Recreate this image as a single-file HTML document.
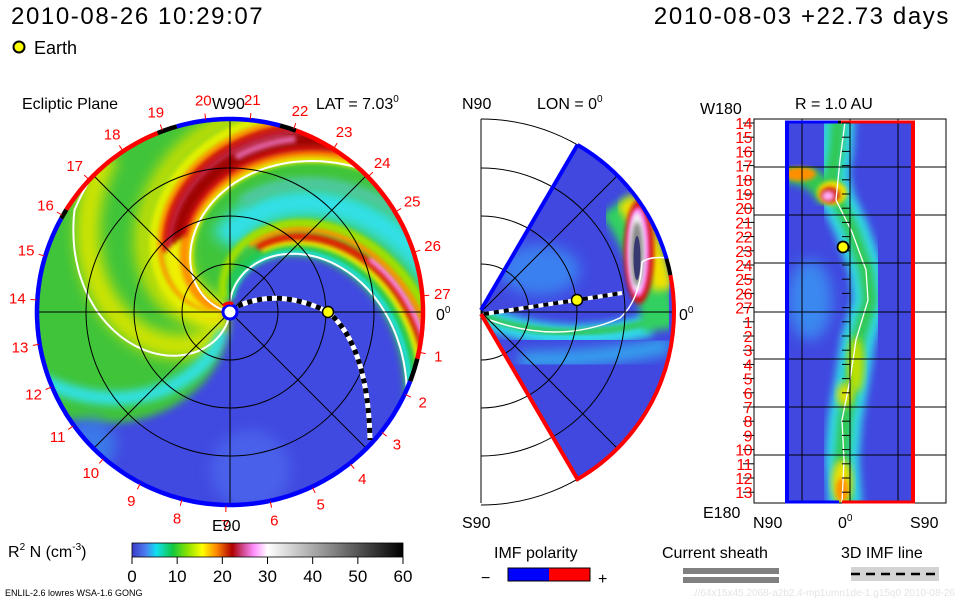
<!DOCTYPE html>
<html><head><meta charset="utf-8">
<style>
html,body{margin:0;padding:0;background:#fff;}
svg{display:block;}
text{font-family:"Liberation Sans",sans-serif;}
</style></head>
<body>
<svg id="root" width="960" height="600" viewBox="0 0 960 600" xmlns="http://www.w3.org/2000/svg">
<defs>
  <filter id="b2" x="-20%" y="-20%" width="140%" height="140%"><feGaussianBlur stdDeviation="2"/></filter>
  <filter id="b4" x="-20%" y="-20%" width="140%" height="140%"><feGaussianBlur stdDeviation="4"/></filter>
  <filter id="b7" x="-30%" y="-30%" width="160%" height="160%"><feGaussianBlur stdDeviation="7"/></filter>
  <clipPath id="diskClip"><circle cx="230" cy="312" r="193"/></clipPath>
  <clipPath id="wedgeClip"><path d="M481,312 L577.5,144.9 A193,193 0 0 1 577.5,479.1 Z"/></clipPath>
  <clipPath id="rectClip"><rect x="786" y="121" width="128" height="382"/></clipPath>
  <linearGradient id="cbar" x1="0" x2="1" y1="0" y2="0">
    <stop offset="0" stop-color="#3c3cc8"/>
    <stop offset="0.05" stop-color="#4a7cf0"/>
    <stop offset="0.09" stop-color="#10e0f0"/>
    <stop offset="0.15" stop-color="#10c840"/>
    <stop offset="0.2" stop-color="#80e000"/>
    <stop offset="0.26" stop-color="#ffff00"/>
    <stop offset="0.31" stop-color="#ff8c00"/>
    <stop offset="0.37" stop-color="#b00000"/>
    <stop offset="0.41" stop-color="#d04890"/>
    <stop offset="0.45" stop-color="#ff90ff"/>
    <stop offset="0.5" stop-color="#ffffff"/>
    <stop offset="1" stop-color="#000000"/>
  </linearGradient>
</defs>

<text x="11" y="24" font-size="24" letter-spacing="1.6">2010-08-26 10:29:07</text>
<text x="950" y="24" font-size="24" letter-spacing="1.6" text-anchor="end">2010-08-03 +22.73 days</text>
<g>
  <circle cx="19" cy="47" r="5.5" fill="#ffff00" stroke="#000" stroke-width="2"/>
  <text x="34" y="54" font-size="18">Earth</text>
</g>

<g id="ecl">
  <text x="22" y="109" font-size="16">Ecliptic Plane</text>
  <text x="316" y="109" font-size="16">LAT = 7.03<tspan font-size="10" dy="-7">0</tspan></text>
  <g id="eclField" clip-path="url(#diskClip)"></g>
  <g id="eclGrid"></g>
  <g id="eclOver"></g>
  <text x="212" y="109" font-size="16">W90</text>
  <text x="212" y="531" font-size="16">E90</text>
  <text x="436" y="320" font-size="16">0<tspan font-size="10" dy="-7">0</tspan></text>
</g>

<g id="mer">
  <text x="462" y="109" font-size="16">N90</text>
  <text x="537" y="109" font-size="16">LON = 0<tspan font-size="10" dy="-7">0</tspan></text>
  <text x="462" y="528" font-size="16">S90</text>
  <text x="679" y="320" font-size="16">0<tspan font-size="10" dy="-7">0</tspan></text>
  <g id="merField" clip-path="url(#wedgeClip)"></g>
  <g id="merGrid"></g>
</g>

<g id="au">
  <text x="795" y="109" font-size="16">R = 1.0 AU</text>
  <text x="700" y="114" font-size="16">W180</text>
  <text x="703" y="518" font-size="16">E180</text>
  <text x="753" y="528" font-size="16">N90</text>
  <text x="838" y="528" font-size="16">0<tspan font-size="10" dy="-7">0</tspan></text>
  <text x="910" y="528" font-size="16">S90</text>
  <g id="auField" clip-path="url(#rectClip)"></g>
  <g id="auGrid"></g>
</g>

<g>
  <text x="8" y="557" font-size="16">R<tspan font-size="10" dy="-7">2</tspan><tspan dy="7"> N (cm</tspan><tspan font-size="10" dy="-7">-3</tspan><tspan dy="7">)</tspan></text>
  <rect x="132" y="543" width="271" height="14" fill="url(#cbar)" stroke="#000" stroke-width="0.8"/>
  <g id="cbTicks"></g>
</g>
<g>
  <text x="494" y="558" font-size="16">IMF polarity</text>
  <text x="481" y="583" font-size="16">−</text>
  <rect x="508" y="568" width="41" height="13" fill="#0000ff"/>
  <rect x="549" y="568" width="41" height="13" fill="#ff0000"/>
  <rect x="508" y="568" width="82" height="13" fill="none" stroke="#000" stroke-width="1"/>
  <text x="598" y="584" font-size="16">+</text>
</g>
<g>
  <text x="662" y="558" font-size="16">Current sheath</text>
  <rect x="683" y="568" width="96" height="6" fill="#808080"/>
  <rect x="683" y="577" width="96" height="6" fill="#808080"/>
</g>
<g>
  <text x="841" y="558" font-size="16">3D IMF line</text>
  <rect x="851" y="567" width="88" height="14" fill="#d3d3d3"/>
  <line x1="851" y1="574" x2="939" y2="574" stroke="#000" stroke-width="2.5" stroke-dasharray="9,6"/>
</g>
<text x="5" y="596" font-size="9">ENLIL-2.6 lowres WSA-1.6 GONG</text>
<text x="955" y="596" font-size="10" fill="#e4e4e4" text-anchor="end">.//64x15x45.2068-a2b2.4-mp1umn1de-1.g15q0   2010-08-26</text>
</svg>
<script>
// ---------- data ----------
const dayLabels = ["1","2","3","4","5","6","7","8","9","10","11","12","13","14","15","16","17","18","19","20","21","22","23","24","25","26","27"];
const auDayLabels = ["14","15","16","17","18","19","20","21","22","23","24","25","26","27","1","2","3","4","5","6","7","8","9","10","11","12","13"];
const cbTickValues = [0,10,20,30,40,50,60];
const gridRadii = [48,96,144,193];
const band2Offsets = [-99,-103,-107,-111,-114,-118,-122];
const band2Colors = ["#20e0e0","#20c850","#e8f000","#e02000","#ff80ff","#ff9000","#a0e000"];
const band1Offsets = [-170,-174,-178,-182,-186,-190,-194,-198,-202];
const band1Colors = ["#e8f000","#ff9000","#d01010","#a00000","#a00000","#c02040","#d01010","#ff9000","#e0f000"];
const ringStarts = [-148,-112,-106,-75,-70,14,21,209];
const ringEnds   = [-112,-106,-75,-70,14,21,209,212];
const ringColors = ["#ff0000","#000000","#0000ff","#000000","#ff0000","#000000","#0000ff","#000000"];
const earthPos = [328,312];

const NS="http://www.w3.org/2000/svg";
const CX=230, CY=312, R=193, K=0.62*Math.PI/180;
function mk(parent, tag, attrs, name){
  const el=document.createElementNS(NS,tag);
  for(const k in attrs) el.setAttribute(k,attrs[k]);
  
  
  parent.appendChild(el); return el;
}
function pt(r,a){return [CX+r*Math.cos(a), CY+r*Math.sin(a)];}
function spiral(a0,r0,r1){
  let d='';
  for(let r=r0;r<=r1;r+=2){const p=pt(r,a0*Math.PI/180+K*r);d+=(r===r0?'M':'L')+p[0].toFixed(1)+','+p[1].toFixed(1);}
  return d;
}
function edgeAng(r,off){return (88+off+0.3*r)*Math.PI/180;}
function edgePath(off,r0,r1){let d='';for(let r=r0;r<=r1;r+=3){const p=pt(r,edgeAng(r,off));d+=(r===r0?'M':'L')+p[0].toFixed(1)+','+p[1].toFixed(1);}return d;}

// ---------- ecliptic field ----------
const F=document.getElementById('eclField');
mk(F,'circle',{cx:CX,cy:CY,r:R,fill:'#40c43a'},'ecliptic-base');
mk(F,'path',{d:spiral(108,10,200),fill:'none',stroke:'#d0e400',"stroke-width":24,filter:'url(#b7)'},'yellow-band-a');
mk(F,'path',{d:spiral(150,10,200),fill:'none',stroke:'#c8e000',"stroke-width":18,filter:'url(#b7)'},'yellow-band-b');
mk(F,'path',{d:spiral(175,5,110),fill:'none',stroke:'#f4f000',"stroke-width":30,filter:'url(#b7)'},'yellow-band-core');
mk(F,'path',{d:spiral(-138,70,210),fill:'none',stroke:'#30e0e8',"stroke-width":30,filter:'url(#b7)'},'cyan-gap-band');
mk(F,'path',{d:spiral(-152,110,210),fill:'none',stroke:'#50c8a0',"stroke-width":12,filter:'url(#b4)'},'green-gap-band');
mk(F,'path',{d:edgePath(12,20,210),fill:'none',stroke:'#30e0e0',"stroke-width":14,filter:'url(#b4)'},'blue-edge-cyan');
{let pts=[];
 for(let r=4;r<=214;r+=3){pts.push(pt(r,-95*Math.PI/180+K*r));}
 const aS=-95*Math.PI/180+K*214, aE=edgeAng(214,0);
 for(let i=0;i<=20;i++){pts.push(pt(300,aS+(aE-aS)*i/20));}
 for(let r=214;r>=4;r-=3){pts.push(pt(r,edgeAng(r,0)));}
 mk(F,'polygon',{points:pts.map(p=>p[0].toFixed(1)+','+p[1].toFixed(1)).join(' '),fill:'#4048e0',filter:'url(#b4)'},'blue-sector');}
mk(F,'circle',{cx:90,cy:445,r:26,fill:'#3a78e8',filter:'url(#b7)'},'blue-edge-patch');
mk(F,'circle',{cx:250,cy:470,r:40,fill:'#4a60ea',filter:'url(#b7)'},'blue-lighter-patch');
band2Offsets.forEach((o,i)=>{
  const r0 = i>=2 && i<=5 ? (i===4?150:70) : 15;
  mk(F,'path',{d:spiral(o,r0,205),fill:'none',stroke:band2Colors[i],"stroke-width":(i===4?6:8),filter:'url(#b2)'},'cir-band-2-stripe');
});
band1Offsets.forEach((o,i)=>{
  const c=band1Colors[i];
  const red = c==='#d01010'||c==='#a00000'||c==='#c02040';
  mk(F,'path',{d:spiral(o,red?90:10,205),fill:'none',stroke:c,"stroke-width":9,filter:'url(#b2)'},'cir-band-1-stripe');
});
mk(F,'path',{d:spiral(-184,155,185),fill:'none',stroke:'#e060a0',"stroke-width":7,filter:'url(#b2)'},'cir-band-1-peak');
mk(F,'path',{d:spiral(-96,8,205),fill:'none',stroke:'#fff',"stroke-width":2},'current-sheath-line-1');
mk(F,'path',{d:spiral(-168,8,196),fill:'none',stroke:'#fff',"stroke-width":2},'current-sheath-line-2');
mk(F,'path',{d:spiral(98,8,186)+' Q100,150 140,135 T190,122',fill:'none',stroke:'#fff',"stroke-width":2},'current-sheath-line-3');

// ---------- ecliptic grid ----------
const G=document.getElementById('eclGrid');
gridRadii.slice(0,3).forEach(r=>mk(G,'circle',{cx:CX,cy:CY,r:r,fill:'none',stroke:'#000',"stroke-width":1},'radius-circle'));
[0,45,90,135].forEach(a=>{const t=a*Math.PI/180;
  mk(G,'line',{x1:CX-R*Math.cos(t),y1:CY-R*Math.sin(t),x2:CX+R*Math.cos(t),y2:CY+R*Math.sin(t),stroke:'#000',"stroke-width":1},'grid-spoke');});
ringStarts.forEach((s,i)=>{
  let d='';
  for(let a=s;a<=ringEnds[i]+0.01;a+=1){const p=pt(R,a*Math.PI/180);d+=(a===s?'M':'L')+p[0].toFixed(1)+','+p[1].toFixed(1);}
  const pe=pt(R,ringEnds[i]*Math.PI/180);d+='L'+pe[0].toFixed(1)+','+pe[1].toFixed(1);
  mk(G,'path',{d:d,fill:'none',stroke:ringColors[i],"stroke-width":4.5},'polarity-ring-segment');
});
dayLabels.forEach((lab,i)=>{
  const a=(12+13.2*i)*Math.PI/180;const p=pt(213,a);const q1=pt(194,a),q2=pt(200,a);
  mk(G,'line',{x1:q1[0],y1:q1[1],x2:q2[0],y2:q2[1],stroke:'#ff0000',"stroke-width":1},'day-tick');
  const t=mk(G,'text',{x:p[0].toFixed(1),y:(p[1]+5).toFixed(1),"font-size":15,fill:'#ff0000',"text-anchor":'middle'},'day-label');
  t.textContent=lab;
});
const O=document.getElementById('eclOver');
mk(O,'circle',{cx:CX,cy:CY,r:7,fill:'#fff',stroke:'#0000ff',"stroke-width":3},'sun-marker');
mk(O,'path',{d:'M223,306 A8,8 0 0 1 233,304',fill:'none',stroke:'#ff0000',"stroke-width":3},'sun-polarity-red');
const imfPath=`M238,306 Q280,288 ${earthPos[0]},${earthPos[1]} Q368,345 370,440`;
mk(O,'path',{d:imfPath,fill:'none',stroke:'#fff',"stroke-width":5},'imf-line-bg');
mk(O,'path',{d:imfPath,fill:'none',stroke:'#000',"stroke-width":5,"stroke-dasharray":'5,5'},'imf-line-dash');
mk(O,'circle',{cx:earthPos[0],cy:earthPos[1],r:5.5,fill:'#ffff00',stroke:'#000',"stroke-width":1.5},'earth-marker');

// ---------- meridional panel ----------
const MF=document.getElementById('merField');
const MX=481,MY=312;
mk(MF,'rect',{x:470,y:110,width:220,height:400,fill:'#4048e0'},'meridional-base');
mk(MF,'ellipse',{cx:540,cy:270,rx:40,ry:25,fill:'#3a80f0',filter:'url(#b7)'},'light-blue-patch');
mk(MF,'path',{d:'M483,316 Q560,350 650,325',fill:'none',stroke:'#30d8e8',"stroke-width":22,filter:'url(#b4)'},'cyan-sheet-band');
mk(MF,'path',{d:'M483,316 Q560,345 650,322',fill:'none',stroke:'#30c860',"stroke-width":7,filter:'url(#b2)'},'green-sheet-band');
mk(MF,'path',{d:'M520,360 Q600,360 670,345',fill:'none',stroke:'#30b8f0',"stroke-width":14,filter:'url(#b7)'},'lower-cyan-band');
mk(MF,'path',{d:'M615,205 Q650,250 660,330',fill:'none',stroke:'#30d060',"stroke-width":34,filter:'url(#b4)'},'green-arc-band');
mk(MF,'path',{d:'M625,200 Q655,240 662,290',fill:'none',stroke:'#f0e000',"stroke-width":20,filter:'url(#b4)'},'yellow-arc-band');
mk(MF,'ellipse',{cx:639,cy:252,rx:15,ry:52,fill:'#d01010',filter:'url(#b2)'},'cir-red');
mk(MF,'ellipse',{cx:638,cy:252,rx:11,ry:45,fill:'#ff80ff',filter:'url(#b2)'},'cir-pink');
mk(MF,'ellipse',{cx:637,cy:252,rx:8,ry:40,fill:'#f0f0f0',filter:'url(#b2)'},'cir-white');
mk(MF,'ellipse',{cx:637,cy:254,rx:6,ry:32,fill:'#888',filter:'url(#b2)'},'cir-gray');
mk(MF,'ellipse',{cx:637,cy:258,rx:3.5,ry:22,fill:'#383870'},'cir-core');
mk(MF,'path',{d:'M490,320 Q560,345 620,318 Q640,300 642,262 Q650,256 668,258',fill:'none',stroke:'#fff',"stroke-width":1.5},'meridional-sheath-line');
const MGd=document.getElementById('merGrid');
mk(MGd,'line',{x1:MX,y1:119,x2:MX,y2:503,stroke:'#000',"stroke-width":1},'meridional-axis');
gridRadii.forEach(r=>mk(MGd,'path',{d:`M${MX},${MY-r} A${r},${r} 0 0 1 ${MX},${MY+r}`,fill:'none',stroke:'#000',"stroke-width":1},'meridional-radius-arc'));
[-45,0,45].forEach(a=>{const t=a*Math.PI/180;mk(MGd,'line',{x1:MX,y1:MY,x2:MX+193*Math.cos(t),y2:MY+193*Math.sin(t),stroke:'#000',"stroke-width":1},'meridional-spoke');});
function arcP(a1,a2){const p1=[MX+193*Math.cos(a1*Math.PI/180),MY+193*Math.sin(a1*Math.PI/180)],p2=[MX+193*Math.cos(a2*Math.PI/180),MY+193*Math.sin(a2*Math.PI/180)];return `M${p1[0]},${p1[1]} A193,193 0 0 1 ${p2[0]},${p2[1]}`;}
mk(MGd,'path',{d:`M${MX},${MY-2} L577.5,144.9`,fill:'none',stroke:'#0000ff',"stroke-width":4},'meridional-blue-edge');
mk(MGd,'path',{d:arcP(-60,-16),fill:'none',stroke:'#0000ff',"stroke-width":4},'meridional-blue-arc');
mk(MGd,'path',{d:arcP(-16,-11),fill:'none',stroke:'#000',"stroke-width":4},'meridional-black-arc');
mk(MGd,'path',{d:arcP(-11,60)+` L${MX},${MY+2}`,fill:'none',stroke:'#ff0000',"stroke-width":4},'meridional-red-border');
const mImf='M484,314 L577,300 L622,293';
mk(MGd,'path',{d:mImf,fill:'none',stroke:'#fff',"stroke-width":4},'meridional-imf-bg');
mk(MGd,'path',{d:mImf,fill:'none',stroke:'#000',"stroke-width":4,"stroke-dasharray":'5,5'},'meridional-imf-dash');
mk(MGd,'circle',{cx:577,cy:300,r:5.5,fill:'#ffff00',stroke:'#000',"stroke-width":1.5},'meridional-earth-marker');

// ---------- 1 AU panel ----------
const AF=document.getElementById('auField');
mk(AF,'rect',{x:780,y:115,width:140,height:395,fill:'#4048e0'},'au-base');
mk(AF,'ellipse',{cx:810,cy:300,rx:22,ry:40,fill:'#3a88f0',filter:'url(#b7)'},'au-light-patch');
const mea='M838,118 L836,150 L832,175 L838,200 L852,230 L866,270 L870,300 L858,340 L852,380 L845,420 L842,460 L845,506';
mk(AF,'path',{d:mea,fill:'none',stroke:'#30d8e8',"stroke-width":34,filter:'url(#b4)'},'au-cyan-band');
mk(AF,'path',{d:mea,fill:'none',stroke:'#30c850',"stroke-width":14,filter:'url(#b4)'},'au-green-band');
mk(AF,'path',{d:'M786,172 Q815,172 830,200',fill:'none',stroke:'#30c850',"stroke-width":22,filter:'url(#b4)'},'au-green-arm');
mk(AF,'ellipse',{cx:800,cy:174,rx:16,ry:7,fill:'#ff9000',filter:'url(#b2)'},'au-orange-spot');
mk(AF,'ellipse',{cx:832,cy:193,rx:15,ry:12,fill:'#f0e000',filter:'url(#b2)'},'au-yellow-spot');
mk(AF,'ellipse',{cx:830,cy:195,rx:10,ry:8,fill:'#d02020',filter:'url(#b2)'},'au-red-spot');
mk(AF,'ellipse',{cx:828,cy:196,rx:6,ry:5,fill:'#ffb0ff',filter:'url(#b2)'},'au-pink-spot');
mk(AF,'ellipse',{cx:856,cy:365,rx:8,ry:28,fill:'#c0e000',filter:'url(#b4)'},'au-yellow-mid');
mk(AF,'ellipse',{cx:845,cy:395,rx:8,ry:12,fill:'#e0e000',filter:'url(#b4)'},'au-yellow-mid-2');
mk(AF,'ellipse',{cx:842,cy:482,rx:10,ry:22,fill:'#f0e000',filter:'url(#b4)'},'au-yellow-low');
mk(AF,'ellipse',{cx:842,cy:490,rx:6,ry:12,fill:'#ff9000',filter:'url(#b2)'},'au-orange-low');
mk(AF,'path',{d:'M845,122 L840,160 L836,200 L852,232 L866,270 L868,300 L856,340 L850,380 L842,420 L844,460 L842,503',fill:'none',stroke:'#fff',"stroke-width":1.3},'au-sheath-line');
const AG=document.getElementById('auGrid');
mk(AG,'rect',{x:754,y:119,width:192,height:384,fill:'none',stroke:'#000',"stroke-width":1},'au-frame');
[802,850,898].forEach(x=>mk(AG,'line',{x1:x,y1:119,x2:x,y2:503,stroke:'#000',"stroke-width":1},'au-grid-vertical'));
[167,215,263,312,359,407,455].forEach(y=>mk(AG,'line',{x1:754,y1:y,x2:946,y2:y,stroke:'#000',"stroke-width":1},'au-grid-horizontal'));
mk(AG,'line',{x1:787,y1:121,x2:787,y2:503,stroke:'#0000ff',"stroke-width":4},'au-blue-left');
mk(AG,'line',{x1:913,y1:121,x2:913,y2:503,stroke:'#ff0000',"stroke-width":4},'au-red-right');
mk(AG,'line',{x1:785,y1:122,x2:838,y2:122,stroke:'#0000ff',"stroke-width":3},'au-blue-top');
mk(AG,'line',{x1:838,y1:122,x2:841,y2:122,stroke:'#000',"stroke-width":3},'au-black-top');
mk(AG,'line',{x1:841,y1:122,x2:915,y2:122,stroke:'#ff0000',"stroke-width":3},'au-red-top');
mk(AG,'line',{x1:785,y1:502,x2:839,y2:502,stroke:'#0000ff',"stroke-width":3},'au-blue-bottom');
mk(AG,'line',{x1:842,y1:502,x2:915,y2:502,stroke:'#ff0000',"stroke-width":3},'au-red-bottom');
auDayLabels.forEach((lab,i)=>{
  const y=123+i*14.2;
  mk(AG,'line',{x1:743,y1:y,x2:754,y2:y,stroke:'#000',"stroke-width":1},'au-day-tick');
  mk(AG,'line',{x1:842,y1:y,x2:850,y2:y,stroke:'#000',"stroke-width":1},'au-center-tick');
  const t=mk(AG,'text',{x:752,y:(y+6).toFixed(1),"font-size":16,fill:'#ff0000',"text-anchor":'end',"letter-spacing":'-0.5'},'au-day-label');
  t.textContent=lab;
});
mk(AG,'circle',{cx:843,cy:247,r:5.5,fill:'#ffff00',stroke:'#000',"stroke-width":1.8},'au-earth-marker');

// ---------- colorbar ticks ----------
const CB=document.getElementById('cbTicks');
cbTickValues.forEach(v=>{
  const x=132+271*v/60;
  mk(CB,'line',{x1:x,y1:557,x2:x,y2:564,stroke:'#000',"stroke-width":1},'colorbar-tick');
  const t=mk(CB,'text',{x:x,y:582,"font-size":17,"text-anchor":'middle'},'colorbar-tick-label');
  t.textContent=String(v);
});
</script>
</body></html>
